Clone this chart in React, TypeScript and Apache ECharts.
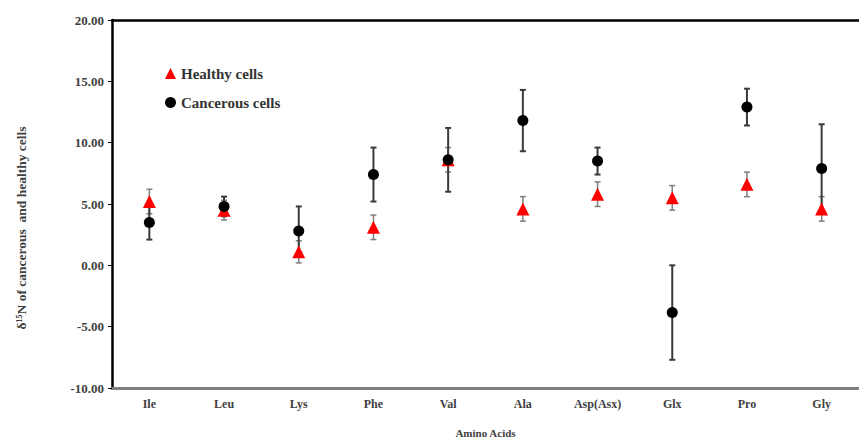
import React, { useEffect, useRef } from "react";
import * as echarts from "echarts";

const categories = ["Ile", "Leu", "Lys", "Phe", "Val", "Ala", "Asp(Asx)", "Glx", "Pro", "Gly"];
const healthy = [5.2, 4.5, 1.1, 3.1, 8.6, 4.6, 5.8, 5.5, 6.6, 4.6];
const healthyErr = [1.0, 0.8, 0.9, 1.0, 1.0, 1.0, 1.0, 1.0, 1.0, 1.0];
const cancer = [3.5, 4.8, 2.8, 7.4, 8.6, 11.8, 8.5, -3.85, 12.9, 7.9];
const cancerErr = [1.4, 0.8, 2.0, 2.2, 2.6, 2.5, 1.1, 3.85, 1.5, 3.6];

const FONT = "'Liberation Serif', 'Times New Roman', serif";

function errData(vals: number[], errs: number[]) {
  return vals.map((v, i) => [i, v - errs[i], v + errs[i]]);
}

function errRender(color: string, width: number) {
  return (params: any, api: any) => {
    const x = api.value(0);
    const lo = api.coord([x, api.value(1)]);
    const hi = api.coord([x, api.value(2)]);
    const cap = 3;
    const style = { stroke: color, lineWidth: width };
    return {
      type: "group",
      children: [
        { type: "line", shape: { x1: lo[0], y1: lo[1], x2: hi[0], y2: hi[1] }, style },
        { type: "line", shape: { x1: lo[0] - cap, y1: lo[1], x2: lo[0] + cap, y2: lo[1] }, style },
        { type: "line", shape: { x1: hi[0] - cap, y1: hi[1], x2: hi[0] + cap, y2: hi[1] }, style },
      ],
    };
  };
}

export default function App() {
  const ref = useRef<HTMLDivElement>(null);
  useEffect(() => {
    if (!ref.current) return;
    const chart = echarts.init(ref.current, undefined, { renderer: "svg" });
    chart.setOption({
      animation: false,
      backgroundColor: "#ffffff",
      grid: { left: 112, top: 20, width: 760, height: 373 },
      legend: {
        orient: "vertical",
        left: 160,
        top: 61,
        itemWidth: 11,
        itemHeight: 11,
        itemGap: 14,
        data: ["Healthy cells", "Cancerous cells"],
        textStyle: { fontFamily: FONT, fontWeight: "bold", fontSize: 15, color: "#333333" },
      },
      graphic: [
        {
          type: "text",
          x: 21,
          y: 228,
          rotation: Math.PI / 2,
          style: {
            text: "δ¹⁵N of cancerous  and healthy cells",
            fontFamily: FONT,
            fontWeight: "bold",
            fontSize: 13.5,
            fill: "#404040",
            textAlign: "center",
            textVerticalAlign: "middle",
          },
        },
      ],
      xAxis: [
        {
          type: "category",
          data: categories,
          position: "bottom",
          axisLine: { onZero: false, lineStyle: { color: "#808080", width: 3 } },
          axisTick: { show: false },
          axisLabel: { fontFamily: FONT, fontWeight: "bold", fontSize: 12, color: "#404040", margin: 10 },
          name: "Amino Acids",
          nameLocation: "middle",
          nameGap: 39,
          nameTextStyle: { fontFamily: FONT, fontWeight: "bold", fontSize: 11, color: "#404040" },
          splitLine: { show: false },
        },
        {
          type: "category",
          data: categories,
          position: "top",
          axisLine: { onZero: false, lineStyle: { color: "#000000", width: 2.5 } },
          axisTick: { show: false },
          axisLabel: { show: false },
          splitLine: { show: false },
        },
      ],
      yAxis: {
        type: "value",
        min: -10,
        max: 20,
        interval: 5,
        axisLine: { show: true, onZero: false, lineStyle: { color: "#000000", width: 2.5 } },
        axisTick: { show: true, length: 4, lineStyle: { color: "#000000", width: 1 } },
        axisLabel: {
          fontFamily: FONT,
          fontWeight: "bold",
          fontSize: 13,
          color: "#404040",
          margin: 8,
          formatter: (v: number) => v.toFixed(2),
        },
        splitLine: { show: false },
      },
      series: [
        {
          name: "Healthy cells err",
          type: "custom",
          renderItem: errRender("#7f7f7f", 1.5),
          data: errData(healthy, healthyErr),
          z: 1,
          silent: true,
        },
        {
          name: "Cancerous cells err",
          type: "custom",
          renderItem: errRender("#3a3a3a", 2),
          data: errData(cancer, cancerErr),
          z: 2,
          silent: true,
        },
        {
          name: "Healthy cells",
          type: "scatter",
          symbol: "triangle",
          symbolSize: 13,
          itemStyle: { color: "#ff0000", opacity: 1 },
          data: healthy,
          z: 3,
        },
        {
          name: "Cancerous cells",
          type: "scatter",
          symbol: "circle",
          symbolSize: 11,
          itemStyle: { color: "#000000", opacity: 1 },
          data: cancer,
          z: 4,
        },
      ],
    });
    return () => chart.dispose();
  }, []);
  return (
    <div
      style={{ position: "fixed", left: 0, top: 0, width: 859, height: 443, overflow: "hidden", background: "#fff" }}
    >
      <div ref={ref} style={{ width: 859, height: 443, overflow: "hidden" }} />
    </div>
  );
}
